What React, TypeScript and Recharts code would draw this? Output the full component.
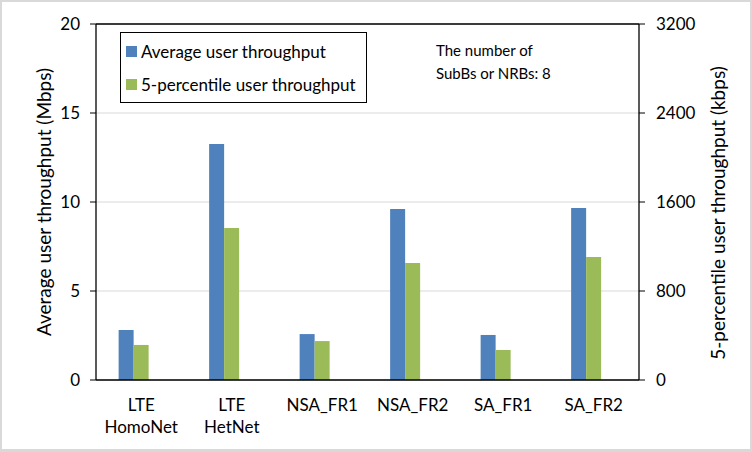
import React from "react";
import {
  BarChart,
  Bar,
  XAxis,
  YAxis,
  CartesianGrid,
  ReferenceLine,
  Legend,
  Label,
} from "recharts";

const categories = ["LTE\nHomoNet", "LTE\nHetNet", "NSA_FR1", "NSA_FR2", "SA_FR1", "SA_FR2"];
const avgThroughputMbps = [2.81, 13.26, 2.58, 9.61, 2.53, 9.66];
const p5ThroughputKbps = [315, 1366, 350, 1051, 270, 1106];
const leftTicks = [0, 5, 10, 15, 20];
const rightTicks = [0, 800, 1600, 2400, 3200];

const seriesNames = ["Average user throughput", "5-percentile user throughput"];
const annotationLines = ["The number of", "SubBs or NRBs: 8"];

const data = categories.map((c, i) => ({
  category: c,
  avg: avgThroughputMbps[i],
  p5: p5ThroughputKbps[i],
  spacer: null as number | null,
}));

const FONT = "Lato, 'Noto Sans', sans-serif";
const TEXT = "#000";

const CategoryTick = (props: any) => {
  const { x, y, payload } = props;
  const lines = String(payload.value).split("\n");
  return (
    <text x={x} y={y} textAnchor="middle" fill={TEXT} fontSize={17} fontFamily={FONT}>
      {lines.map((l, i) => (
        <tspan key={i} x={x} dy={i === 0 ? 31 : 22}>
          {l}
        </tspan>
      ))}
    </text>
  );
};

const LegendBox = (props: any) => {
  const items = (props.payload || [])
    .filter((p: any) => p.type !== "none" && seriesNames.indexOf(p.value) >= 0)
    .slice()
    .sort((a: any, b: any) => seriesNames.indexOf(a.value) - seriesNames.indexOf(b.value));
  return (
    <div
      style={{
        width: 247,
        height: 71,
        border: "1px solid #000",
        boxSizing: "border-box",
        position: "relative",
        background: "#fff",
        fontFamily: FONT,
        fontSize: 17,
        color: TEXT,
      }}
    >
      {items.map((it: any, i: number) => (
        <div
          key={i}
          style={{
            position: "absolute",
            left: 5,
            top: 8.5 + i * 33,
            height: 20,
            display: "flex",
            alignItems: "center",
            whiteSpace: "nowrap",
          }}
        >
          <span style={{ width: 11, height: 11, background: it.color, display: "inline-block", marginRight: 4 }} />
          <span>{it.value}</span>
        </div>
      ))}
    </div>
  );
};

export default function App() {
  return (
    <div
      style={{
        position: "relative",
        width: 752,
        height: 452,
        background: "#fff",
        fontFamily: FONT,
      }}
    >
      <style>{`body{margin:0}`}</style>
      <div
        style={{
          position: "absolute",
          inset: 0,
          border: "2px solid #d9d9d9",
          borderBottomWidth: 3,
          pointerEvents: "none",
          zIndex: 5,
        }}
      />
      <BarChart
        width={752}
        height={452}
        data={data}
        margin={{ top: 24, right: 0, bottom: 0, left: 0 }}
        barCategoryGap="25%"
        barGap={0}
        style={{ fontFamily: FONT }}
      >
        <CartesianGrid vertical={false} stroke="#d9d9d9" yAxisId="left" />
        <XAxis
          dataKey="category"
          height={72}
          tickSize={0}
          tickMargin={0}
          tick={<CategoryTick />}
          axisLine={{ stroke: "#000", strokeWidth: 1.3 }}
          interval={0}
        />
        <YAxis
          yAxisId="left"
          orientation="left"
          width={96}
          domain={[0, 20]}
          ticks={leftTicks}
          tickSize={6}
          tickMargin={10}
          tickLine={{ stroke: "#000" }}
          axisLine={{ stroke: "#000", strokeWidth: 1.3 }}
          tick={{ fill: TEXT, fontSize: 17, fontFamily: FONT }}
        >
          <Label
            content={(p: any) => {
              const vb = p.viewBox;
              const cx = vb.x + 43;
              const cy = vb.y + vb.height / 2;
              return (
                <text
                  x={cx}
                  y={cy}
                  transform={`rotate(-90 ${cx} ${cy})`}
                  textAnchor="middle"
                  dominantBaseline="central"
                  fill={TEXT}
                  fontSize={19}
                  fontFamily={FONT}
                >
                  Average user throughput (Mbps)
                </text>
              );
            }}
          />
        </YAxis>
        <YAxis
          yAxisId="right"
          orientation="right"
          width={113}
          domain={[0, 3200]}
          ticks={rightTicks}
          tickSize={6}
          tickMargin={11}
          tickLine={{ stroke: "#000" }}
          axisLine={{ stroke: "#000", strokeWidth: 1.3 }}
          tick={{ fill: TEXT, fontSize: 17, fontFamily: FONT }}
        >
          <Label
            content={(p: any) => {
              const vb = p.viewBox;
              const cx = vb.x + 78;
              const cy = vb.y + vb.height / 2 + 11;
              return (
                <text
                  x={cx}
                  y={cy}
                  transform={`rotate(-90 ${cx} ${cy})`}
                  textAnchor="middle"
                  dominantBaseline="central"
                  fill={TEXT}
                  fontSize={19}
                  fontFamily={FONT}
                >
                  5-percentile user throughput (kbps)
                </text>
              );
            }}
          />
        </YAxis>
        <ReferenceLine yAxisId="left" y={20} stroke="#000" strokeWidth={1.3} />
        <Legend
          layout="vertical"
          align="center"
          verticalAlign="middle"
          wrapperStyle={{ left: 120, top: 32, width: 247, height: 71 }}
          content={<LegendBox />}
        />
        <Bar yAxisId="left" dataKey="avg" name={seriesNames[0]} fill="#4f81bd" isAnimationActive={false} />
        <Bar yAxisId="right" dataKey="p5" name={seriesNames[1]} fill="#9bbb59" isAnimationActive={false} />
        <Bar yAxisId="left" dataKey="spacer" legendType="none" fill="none" isAnimationActive={false} />
      </BarChart>
      <div
        style={{
          position: "absolute",
          left: 436,
          top: 38.5,
          fontSize: 15,
          lineHeight: "23px",
          color: TEXT,
          fontFamily: FONT,
          whiteSpace: "nowrap",
        }}
      >
        {annotationLines.map((l, i) => (
          <div key={i}>{l}</div>
        ))}
      </div>
    </div>
  );
}
